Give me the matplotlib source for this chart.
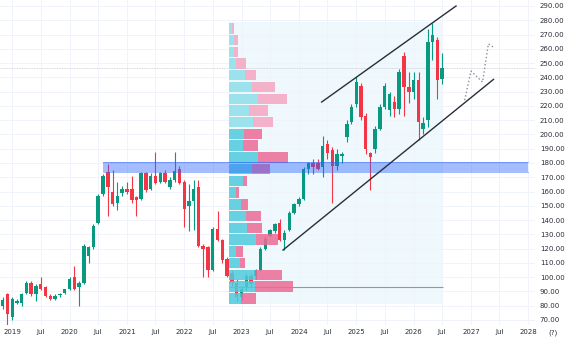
import numpy as np
import pandas as pd
import matplotlib
matplotlib.use('Agg')
import matplotlib.pyplot as plt
import matplotlib.dates as mdates

# monthly candles, Nov 2018 .. Jul 2026
months = pd.date_range('2018-11-01', periods=93, freq='MS')
opens = [80, 88, 72, 82, 82, 89, 96, 88, 95, 93, 87, 85, 87.5, 89, 92, 100, 93, 96, 115, 121,
         138, 158, 174, 160, 152, 159, 162, 162, 156, 155, 173, 162, 171, 167, 173, 163, 168, 176, 167, 150,
         153, 163, 122, 121, 105, 134, 126, 113, 103, 96, 86, 93, 101, 101, 105, 120, 129, 132, 138, 126,
         133, 145, 151, 155, 176, 180, 180, 177, 193, 189, 178, 185, 198, 209, 221, 234, 213, 187, 190, 204,
         219, 217, 223, 218, 255, 233, 230, 238, 204, 210, 265, 266, 239]
highs = [86, 89, 86, 85, 89, 97, 97, 95, 100, 94, 88, 88, 89, 92, 100, 108, 97, 123, 122, 137,
         158, 172, 179, 175, 167, 164, 167, 171, 157, 174, 174, 173, 188, 174, 175, 170, 188, 178, 168, 165,
         168, 168, 123, 122, 135, 146, 127, 114, 105, 99, 94, 103, 103, 106, 121, 129, 134, 138, 141, 133,
         146, 152, 156, 177, 181, 183, 183, 199, 196, 191, 190, 188, 210, 221, 240, 236, 215, 188, 206, 221,
         236, 230, 227, 246, 258, 244, 244, 244, 212, 274, 278, 268, 257]
lows = [78, 65, 70, 81, 80, 88, 87, 83, 91, 86, 84, 84, 86, 88, 91, 91, 80, 95, 110, 120,
        137, 157, 143, 150, 147, 157, 158, 152, 143, 154, 160, 161, 165, 166, 166, 162, 167, 165, 135, 132,
        133, 121, 100, 100, 104, 125, 110, 100, 94, 83, 84, 91, 93, 99, 104, 119, 128, 131, 125, 119,
        132, 144, 150, 154, 172, 172, 175, 170, 183, 152, 175, 180, 195, 207, 219, 210, 186, 161, 187, 203,
        218, 213, 212, 214, 213, 222, 225, 196, 200, 205, 252, 225, 235]
closes = [84, 74, 85, 83, 88, 96, 88, 94, 92, 87, 85, 87, 88, 91.5, 99, 92, 96, 122, 121, 136,
          157, 171, 163, 151, 157, 162, 160, 154, 154, 173, 161, 171, 166, 173, 167, 168, 174.5, 166, 148, 153,
          162, 122, 120, 105, 134, 126, 112, 101, 96, 86, 92, 101, 95, 105, 120, 127, 133, 137, 126, 131,
          145, 151, 155, 176, 180, 177, 176, 192, 187, 178, 186, 186, 207, 219, 237, 212, 190, 184, 204, 219,
          234, 228, 218, 244, 233, 230, 238, 209, 208, 265, 270, 238, 246.5]

# fixed range volume profile, rows from top (278.5) to bottom (81)
vp_top, vp_bottom = 278.5, 81
vp_start, vp_end = '2022-10-13', '2026-07-04'
vp_up = [3, 5, 5, 7, 16, 23, 29, 20, 24, 15, 14, 29, 23, 14, 7, 12, 17, 18, 27, 7, 11, 26, 26, 12]
vp_down = [2, 4, 4, 10, 11, 23, 29, 19, 20, 18, 15, 30, 18, 4, 3, 7, 15, 15, 22, 7, 5, 27, 38, 15]
value_area_from = 9

# drawings
zone_dates, zone_low, zone_high = ('2020-08-01', '2027-12-28'), 174, 181
upper_dates, upper_prices = ['2024-05-25', '2026-09-28'], [222.7, 290]
lower_dates, lower_prices = ['2023-09-22', '2027-05-25'], [119, 238.6]
proj_dates = ['2026-11-22', '2027-01-01', '2027-03-16', '2027-04-22', '2027-06-01']
proj_prices = [224, 244.4, 236.7, 263.4, 260.6]

up_col, down_col = '#089981', '#f23645'

fig = plt.figure(figsize=(5.65, 3.38), dpi=100)
ax = fig.add_axes([0, 13 / 338, 535 / 565, 325 / 338])

x = mdates.date2num(months)
o = np.array(opens); h = np.array(highs); l = np.array(lows); c = np.array(closes)
colors = np.where(c >= o, up_col, down_col)

# volume profile background
vs, ve = mdates.datestr2num(vp_start), mdates.datestr2num(vp_end)
ax.fill_between([vs, ve], vp_bottom, vp_top, color='#eef8fd', zorder=0, lw=0)

# candles
ax.vlines(x, l, h, colors=colors, lw=0.8, zorder=2)
ax.bar(x, np.maximum(np.abs(c - o), 0.6), bottom=np.minimum(o, c), width=22, color=colors, zorder=3, lw=0)

# volume profile rows
n = len(vp_up)
row_h = (vp_top - vp_bottom) / n
centers = vp_top - row_h * (np.arange(n) + 0.5)
px_days = 30.44 / 4.78
up_w = np.array(vp_up) * px_days
down_w = np.array(vp_down) * px_days
va = np.arange(n) >= value_area_from
up_c = np.where(va, '#4fcbde', '#8ddfea')
dn_c = np.where(va, '#ec6a95', '#f4a6c1')
poc = np.argmax(np.array(vp_up) + np.array(vp_down))
ax.hlines(centers[poc], vs, ve, color='#9598a1', lw=0.8, zorder=3)
ax.barh(centers, up_w, left=vs, height=row_h - 0.9, color=up_c, alpha=0.85, zorder=4, lw=0)
ax.barh(centers, down_w, left=vs + up_w, height=row_h - 0.9, color=dn_c, alpha=0.85, zorder=4, lw=0)

# support / resistance zone
zd = mdates.datestr2num(zone_dates)
ax.fill_between(zd, zone_low, zone_high, color='#2962ff', alpha=0.42, lw=0, zorder=5)
ax.plot(zd, [zone_low, zone_low], color='#2962ff', alpha=0.5, lw=0.6, zorder=5)
ax.plot(zd, [zone_high, zone_high], color='#2962ff', alpha=0.5, lw=0.6, zorder=5)

# channel lines and projection
ax.plot(mdates.datestr2num(upper_dates), upper_prices, color='#2a2e39', lw=1.0, zorder=6)
ax.plot(mdates.datestr2num(lower_dates), lower_prices, color='#2a2e39', lw=1.0, zorder=6)
ax.plot(mdates.datestr2num(proj_dates), proj_prices, color='#8a8d96', lw=1.0, ls=':', zorder=6)

# last price line
ax.axhline(closes[-1], color='#c5cad6', lw=0.6, ls=(0, (1, 1)), zorder=1)

ax.set_xlim(mdates.datestr2num('2018-10-15'), mdates.datestr2num('2028-02-13'))
ax.set_ylim(66.45, 294.2)

tick_dates = pd.date_range('2019-01-01', '2028-01-01', freq='6MS')
ax.set_xticks(mdates.date2num(tick_dates))
ax.set_xticklabels([str(d.year) if d.month == 1 else 'Jul' for d in tick_dates])
yt = np.arange(70, 300, 10)
ax.set_yticks(yt)
ax.set_yticklabels([f'{v:.2f}' for v in yt])
ax.yaxis.tick_right()
ax.tick_params(axis='both', length=0, labelsize=5, colors='#2a2e39')
ax.tick_params(axis='y', pad=3.5)
ax.tick_params(axis='x', pad=3)
ax.grid(True, color='#f0f3fa', lw=0.7, zorder=0)
ax.set_axisbelow(True)
for s in ax.spines.values():
    s.set_visible(False)

fig.text(553 / 565, 5 / 338, '(?)', fontsize=5, color='#2a2e39', ha='center', va='center')

fig.savefig('out.png', dpi=100)
